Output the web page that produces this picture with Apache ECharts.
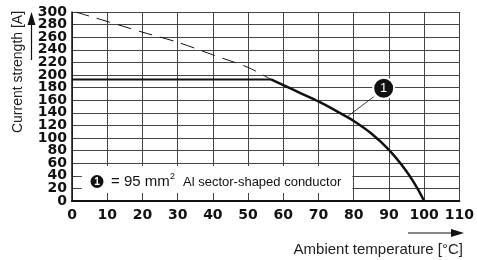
<!DOCTYPE html>
<html lang="en">
<head>
    <meta charset="UTF-8">
    <script src="https://cdn.jsdelivr.net/npm/echarts@6/dist/echarts.min.js"></script>
    <title>Derating</title>
    <style type="text/css">
        body { margin: 0; background: #fff; }
        #main { width: 477px; height: 260px; }
    </style>
</head>
<body>
<div id="main"></div>

<script type="text/javascript">
    // values
    const xTicks = [0, 10, 20, 30, 40, 50, 60, 70, 80, 90, 100, 110];
    const yTicks = [0, 20, 40, 60, 80, 100, 120, 140, 160, 180, 200, 220, 240, 260, 280, 300];
    const flatLine = [[0, 193], [56.5, 193]];
    const curve = [[56.5, 193], [60, 184], [65, 171], [70, 158], [75, 143], [80, 127],
        [85, 107], [90, 81], [95, 47], [98, 21], [100, 0]];
    const dashed = [[1, 300], [10, 285], [20, 268], [30, 252], [40, 232], [50, 212], [56.5, 193]];
    const marker = [[88.5, 179]];
    const leader = [[78.2, 134], [85.7, 165.6]];
    const legendBox = [[2.8, 55.5], [79.6, 12.7]];

    const myChart = echarts.init(document.getElementById('main'));
    const black = '#111';
    const gridColor = '#444';
    const yMin = yTicks[0], yMax = yTicks[yTicks.length - 1];
    const yLabelFont = { fontFamily: 'DejaVu Sans', fontWeight: 'bold', fontSize: 14, color: black, margin: 5 };

    const option = {
        animation: false,
        grid: { left: 72, top: 12, right: 14, bottom: 59 },
        xAxis: {
            type: 'value', min: xTicks[0], max: xTicks[xTicks.length - 1], interval: 10,
            axisLine: { show: true, lineStyle: { color: black, width: 2 } },
            axisTick: { show: false },
            splitLine: { show: true, lineStyle: { color: gridColor, width: 1 } },
            axisLabel: { fontFamily: 'DejaVu Sans', fontWeight: 'bold', fontSize: 14, color: black, margin: 7,
                showMinLabel: true, showMaxLabel: true, hideOverlap: false }
        },
        yAxis: [
            {
                type: 'value', min: yMin, max: yMax, interval: 20, position: 'left',
                axisLine: { show: true, lineStyle: { color: black, width: 1.5 } },
                axisTick: { show: false },
                splitLine: { show: true, lineStyle: { color: gridColor, width: 1 } },
                axisLabel: Object.assign({ showMinLabel: false, showMaxLabel: false }, yLabelFont)
            },
            {
                // only the end labels 0 and 300
                type: 'value', min: yMin, max: yMax, interval: yMax - yMin, position: 'left', offset: 0,
                axisLine: { show: false }, axisTick: { show: false }, splitLine: { show: false },
                axisLabel: Object.assign({ showMinLabel: true, showMaxLabel: true }, yLabelFont)
            }
        ],
        series: [
            {
                type: 'line', data: flatLine, symbol: 'none',
                lineStyle: { color: black, width: 2 },
                markArea: {
                    silent: true,
                    itemStyle: { color: '#fff', opacity: 1 },
                    data: [[{ coord: legendBox[0] }, { coord: legendBox[1] }]]
                }
            },
            {
                type: 'line', data: curve, symbol: 'none', smooth: 0.3,
                lineStyle: { color: black, width: 2.5 }
            },
            {
                type: 'line', data: dashed, symbol: 'none', smooth: 0.3,
                lineStyle: { color: black, width: 1, type: [14, 8] }
            },
            {
                type: 'line', data: leader, symbol: 'none',
                lineStyle: { color: black, width: 0.8 }
            },
            {
                type: 'scatter', data: marker, symbolSize: 21, z: 5,
                itemStyle: { color: black, borderColor: '#fff', borderWidth: 2, opacity: 1 },
                label: { show: true, position: 'inside', formatter: '1', color: '#fff',
                    fontFamily: 'Liberation Sans', fontSize: 13 }
            }
        ],
        graphic: [
            // y axis name and arrow
            {
                type: 'text', x: 18, y: 72, rotation: Math.PI / 2,
                style: { text: 'Current strength [A]', fontFamily: 'Liberation Sans', fontSize: 14,
                    fill: '#222', align: 'center', verticalAlign: 'middle' }
            },
            { type: 'line', shape: { x1: 31.5, y1: 60, x2: 31.5, y2: 22 }, style: { stroke: black, lineWidth: 1.2 } },
            { type: 'polygon', shape: { points: [[31.5, 12], [27.5, 25], [35.5, 25]] }, style: { fill: black } },
            // x axis name and arrow
            {
                type: 'text', x: 463, y: 250,
                style: { text: 'Ambient temperature [°C]', fontFamily: 'Liberation Sans', fontSize: 15,
                    fill: '#222', align: 'right', verticalAlign: 'middle' }
            },
            { type: 'line', shape: { x1: 408, y1: 233, x2: 452, y2: 233 }, style: { stroke: black, lineWidth: 1.2 } },
            { type: 'polygon', shape: { points: [[464, 233], [451, 229], [451, 237]] }, style: { fill: black } },
            // legend text
            { type: 'circle', shape: { cx: 97, cy: 181.5, r: 6.5 }, style: { fill: black }, z: 10 },
            {
                type: 'text', x: 97, y: 182, z: 11,
                style: { text: '1', fontFamily: 'Liberation Sans', fontWeight: 'bold', fontSize: 10,
                    fill: '#fff', align: 'center', verticalAlign: 'middle' }
            },
            {
                type: 'text', x: 111, y: 182, z: 10,
                style: { text: '= 95 mm', fontFamily: 'Liberation Sans', fontSize: 15,
                    fill: black, align: 'left', verticalAlign: 'middle' }
            },
            {
                type: 'text', x: 170, y: 177, z: 10,
                style: { text: '2', fontFamily: 'Liberation Sans', fontSize: 9,
                    fill: black, align: 'left', verticalAlign: 'middle' }
            },
            {
                type: 'text', x: 183, y: 182, z: 10,
                style: { text: 'Al sector-shaped conductor', fontFamily: 'Liberation Sans', fontSize: 13,
                    fill: black, align: 'left', verticalAlign: 'middle' }
            }
        ]
    };

    myChart.setOption(option);
</script>
</body>
</html>
